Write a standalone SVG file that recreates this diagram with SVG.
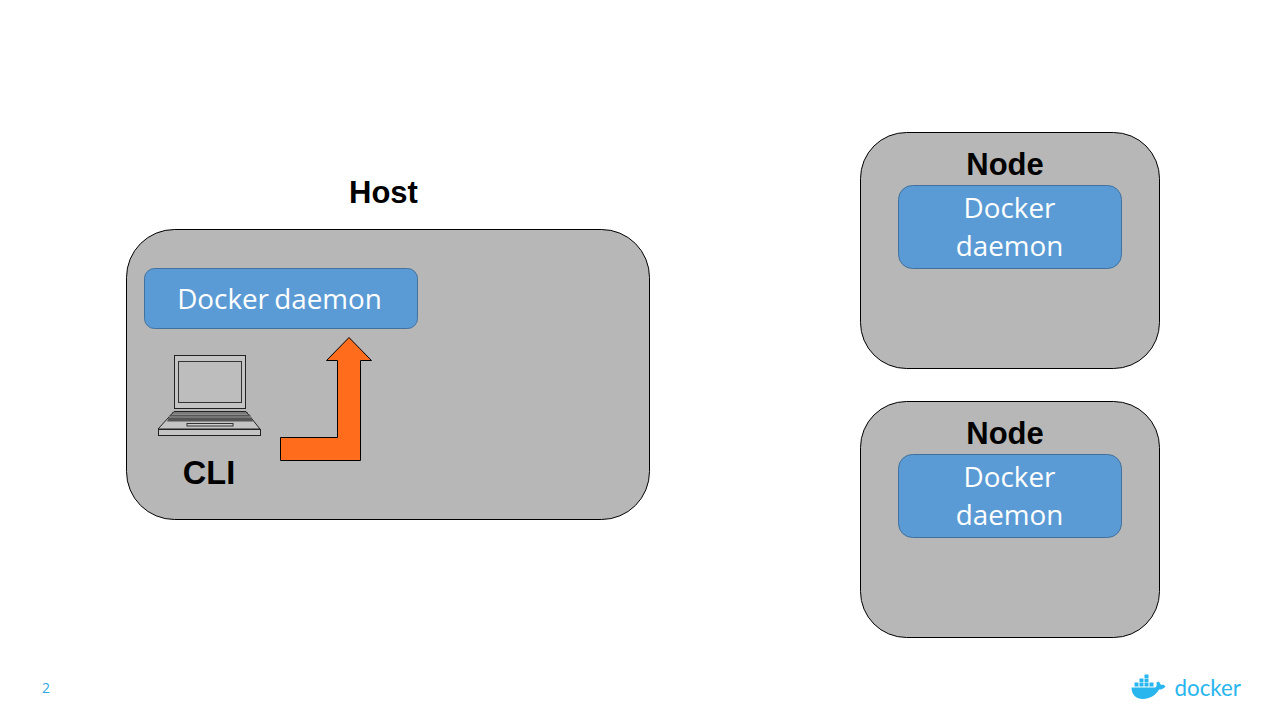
<svg xmlns="http://www.w3.org/2000/svg" width="1280" height="720" viewBox="0 0 1280 720">
<style>
.box{fill:#b7b7b7;stroke:#000;stroke-width:1}
.d{fill:#5b9bd5;stroke:#41719c;stroke-width:1}
.t{font-family:"Liberation Sans",Arial,sans-serif;font-weight:700;fill:#000;text-anchor:middle}
.w{font-family:"Open Sans",sans-serif;font-size:27.8px;fill:#fff;text-anchor:middle}
.l{stroke:#222;stroke-width:1;fill:#c4c4c4}
</style>
<rect width="1280" height="720" fill="#fff"/>
<g id="host">
<rect class="box" x="126.500" y="229.500" width="523" height="290" rx="48"/>
<text class="t" x="383.500" y="202.500" font-size="31">Host</text>
</g>
<g id="host-daemon">
<rect class="d" x="144.500" y="268.500" width="273" height="60" rx="10"/>
<text class="w" x="279.500" y="309" word-spacing="-2">Docker daemon</text>
</g>
<g id="cli">
<rect class="l" x="174.500" y="355.500" width="71" height="53"/>
<rect x="178.500" y="361.500" width="63" height="41" fill="#bdbdbd" stroke="#333"/>
<path class="l" d="M174 411.500H246L260 429H158Z"/>
<path d="M172 413H248" stroke="#333" fill="none"/>
<path d="M170 414.500H250L253 421.500H167Z" fill="#555"/>
<path d="M169 417H251" stroke="#999" fill="none"/>
<rect x="187" y="423.500" width="46" height="2.500" fill="#ccc" stroke="#333" stroke-width="1"/>
<rect class="l" x="158.500" y="429.500" width="102" height="6"/>
<text class="t" x="209" y="484" font-size="32.500">CLI</text>
</g>
<g id="connectors">
<path d="M280.500 460.500V437.500H337.500V360.500H326.500L349 337.500L371.500 360.500H360.500V460.500Z" fill="#ff6d1c" stroke="#000" stroke-width="1"/>
</g>
<g id="node1">
<rect class="box" x="860.500" y="132.500" width="299" height="236" rx="46"/>
<text class="t" x="1005" y="175" font-size="31">Node</text>
<rect class="d" x="898.500" y="185.500" width="223" height="83" rx="14"/>
<text class="w" x="1009.500" y="218">Docker</text>
<text class="w" x="1009.500" y="256">daemon</text>
</g>
<g id="node2">
<rect class="box" x="860.500" y="401.500" width="299" height="236" rx="46"/>
<text class="t" x="1005" y="444" font-size="31">Node</text>
<rect class="d" x="898.500" y="454.500" width="223" height="83" rx="14"/>
<text class="w" x="1009.500" y="487">Docker</text>
<text class="w" x="1009.500" y="525">daemon</text>
</g>
<text x="42" y="693" font-family="Open Sans,sans-serif" font-size="14" fill="#2fa8e0">2</text>
<g id="logo" fill="#29b6ee">
<path d="M1131.500 687.500H1155C1156.500 687.500 1157 685 1156.500 682.500L1158.500 681.500C1160 683 1160.500 684 1161 685C1163 684.500 1164.500 685 1165.500 686.500C1163.500 689 1161 689.500 1159 689.500C1155.500 695.500 1149.500 699 1143 699C1136 699 1131.500 694.500 1131.500 687.500Z"/>
<rect x="1134.500" y="682.500" width="4" height="4"/><rect x="1139.500" y="682.500" width="4" height="4"/><rect x="1144.500" y="682.500" width="4" height="4"/><rect x="1149.500" y="682.500" width="4" height="4"/>
<rect x="1139.500" y="678.500" width="4" height="3.500"/><rect x="1144.500" y="678.500" width="4" height="3.500"/><rect x="1144.500" y="674.500" width="4" height="3.500"/>
<text x="1174.500" y="696" font-family="Lato,sans-serif" font-size="23" textLength="66.500" lengthAdjust="spacingAndGlyphs">docker</text>
</g>
</svg>
